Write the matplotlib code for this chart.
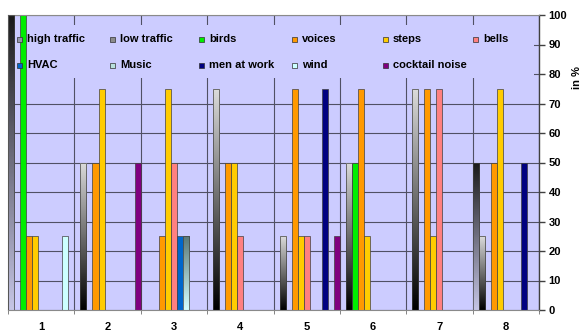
import numpy as np
import matplotlib
matplotlib.use('Agg')
import matplotlib.pyplot as plt
from matplotlib.colors import LinearSegmentedColormap
from matplotlib.patches import Rectangle

plt.rcParams['font.family'] = ['Liberation Sans', 'DejaVu Sans']

# sound sources heard at the 8 locations (share of answers, in %)
categories = ['1', '2', '3', '4', '5', '6', '7', '8']
series_names = ['high traffic', 'low traffic', 'birds', 'voices', 'steps', 'bells',
                'HVAC', 'Music', 'men at work', 'wind', 'cocktail noise']
high_traffic = [100, 0, 0, 0, 0, 0, 0, 50]
low_traffic = [0, 50, 0, 75, 25, 50, 75, 25]
birds = [100, 0, 0, 0, 0, 50, 0, 0]
voices = [25, 50, 25, 50, 75, 75, 75, 50]
steps = [25, 75, 75, 50, 25, 25, 25, 75]
bells = [0, 0, 50, 25, 25, 0, 75, 0]
hvac = [0, 0, 25, 0, 0, 0, 0, 0]
music = [0, 0, 25, 0, 0, 0, 0, 0]
men_at_work = [0, 0, 0, 0, 75, 0, 0, 50]
wind = [25, 0, 0, 0, 0, 0, 0, 0]
cocktail_noise = [0, 50, 0, 0, 25, 0, 0, 0]

all_series = [high_traffic, low_traffic, birds, voices, steps, bells,
              hvac, music, men_at_work, wind, cocktail_noise]

# solid fills, or (top, bottom) pairs for the shaded columns
fills = ['grad', 'grad', '#00ee00', '#ff9900', '#ffcc00', '#ff8080',
         '#0066cc', 'grad', '#000080', '#ccffff', '#800080']
gradients = {0: ('#1a1a1a', '#c4c4e4'),
             1: ('#dadada', '#000000'),
             7: ('#5a7878', '#d4ffff')}
swatches = ['#9494a8', '#8c8c8c', '#00ee00', '#ff9900', '#ffcc00', '#ff8080',
            '#0066cc', '#b8e0dc', '#000080', '#ccffff', '#800080']

W, H = 584, 332
fig = plt.figure(figsize=(W / 100, H / 100), dpi=100)
fig.patch.set_facecolor('white')
ax = fig.add_axes([8 / W, 22 / H, 531 / W, 295 / H])
ax.set_facecolor('#ccccff')

x = np.arange(len(categories))
n = len(all_series)
bw = 1.0 / n

for j, vals in enumerate(all_series):
    pos = x - 0.5 + (j + 0.5) * bw
    if fills[j] == 'grad':
        bars = ax.bar(pos, vals, width=bw, facecolor='none', edgecolor='#404040',
                      linewidth=0.5, zorder=3)
        top, bottom = gradients[j]
        cmap = LinearSegmentedColormap.from_list('g%d' % j, [bottom, top])
        for b, v in zip(bars, vals):
            if v <= 0:
                continue
            im = ax.imshow(np.linspace(0, 1, 64).reshape(-1, 1), cmap=cmap,
                           extent=(b.get_x(), b.get_x() + b.get_width(), 0, v),
                           origin='lower', aspect='auto', interpolation='bilinear',
                           zorder=2)
            im.set_clip_path(b)
    else:
        ax.bar(pos, vals, width=bw, color=fills[j], edgecolor='#404040',
               linewidth=0.5, zorder=2)

ax.set_aspect('auto')
ax.set_xlim(-0.5, len(categories) - 0.5)
ax.set_ylim(0, 100)

# grid: horizontal every 10 %, vertical between the locations
ax.set_axisbelow(True)
ax.set_yticks(np.arange(0, 101, 10))
ax.set_xticks(x)
ax.set_xticks(np.arange(-0.5, len(categories), 1.0), minor=True)
ax.grid(axis='y', which='major', color='#505064', linewidth=0.8, zorder=0)
ax.grid(axis='x', which='minor', color='#505064', linewidth=0.8, zorder=0)

# legend sits on a plain patch that hides the grid behind it
ax.add_patch(Rectangle((-0.43, 78.6), 7.85, 18.0, facecolor='#ccccff',
                       edgecolor='none', zorder=1))

ax.set_xticklabels(categories, fontsize=8, fontweight='bold')
ax.tick_params(axis='x', which='major', length=0, pad=9)
ax.tick_params(axis='x', which='minor', length=3, color='#707070', direction='out')

ax.yaxis.tick_right()
ax.tick_params(axis='y', which='major', length=4, width=1, color='#404040',
               direction='out', pad=3, labelsize=8)
for lab in ax.get_yticklabels():
    lab.set_fontweight('bold')

for side in ['left', 'top', 'bottom']:
    ax.spines[side].set_color('#8a8a8a')
    ax.spines[side].set_linewidth(0.8)
ax.spines['right'].set_color('#404040')
ax.spines['right'].set_linewidth(1.0)

fig.text(577 / W, 1 - 78 / H, 'in %', rotation=90, ha='center', va='center',
         fontsize=8, fontweight='bold')

# legend in two rows of evenly spaced entries
col_x = [17, 110, 199, 292, 383, 473]
row_y = [39, 65]
for k, name in enumerate(series_names):
    r, c = divmod(k, 6)
    sx, sy = col_x[c], row_y[r]
    fig.add_artist(Rectangle((sx / W, 1 - (sy + 2.5) / H), 5 / W, 5 / H,
                             transform=fig.transFigure, facecolor=swatches[k],
                             edgecolor='#303030', linewidth=0.5, zorder=5))
    fig.text((sx + 10) / W, 1 - sy / H, name, ha='left', va='center',
             fontsize=8, fontweight='bold', zorder=5)

fig.savefig('out.png', dpi=100)
